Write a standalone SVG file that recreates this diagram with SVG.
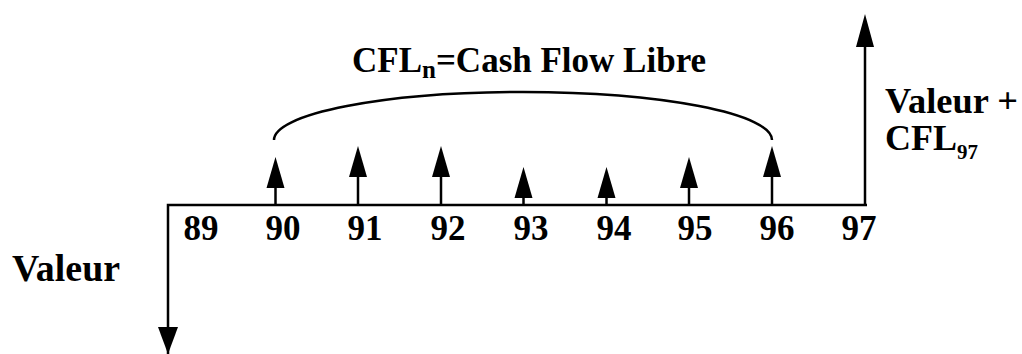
<svg xmlns="http://www.w3.org/2000/svg" width="1022" height="354" viewBox="0 0 1022 354">
<style>
.t{font-family:"Liberation Serif","Times New Roman",serif;font-weight:bold;fill:#000}
.n{font-size:35px;text-anchor:middle}
.l{stroke:#000;stroke-width:2.5;fill:none}
.h{fill:#000}
</style>
<rect width="1022" height="354" fill="#fff"/>
<g id="connectors">
<path class="l" d="M168,354 V205 H867"/>
<path class="h" d="M158,327 L178,327 L168,354 Z"/>
<path class="l" d="M865,205 V44"/>
<path class="h" d="M856,47 L874,47 L865,14 Z"/>
<path class="l" d="M274,140 A249,48 0 0 1 772,140"/>
</g>
<g id="arrows">
<g id="a90"><path class="l" d="M275.5,205 V185"/><path class="h" d="M266.5,188 L284.5,188 L275.5,157 Z"/></g>
<g id="a91"><path class="l" d="M358,205 V174"/><path class="h" d="M349,177 L367,177 L358,146 Z"/></g>
<g id="a92"><path class="l" d="M441,205 V174"/><path class="h" d="M432,177 L450,177 L441,146 Z"/></g>
<g id="a93"><path class="l" d="M523.5,205 V195"/><path class="h" d="M514.5,198 L532.5,198 L523.5,167 Z"/></g>
<g id="a94"><path class="l" d="M606.5,205 V195"/><path class="h" d="M597.5,198 L615.5,198 L606.5,167 Z"/></g>
<g id="a95"><path class="l" d="M689,205 V185"/><path class="h" d="M680,188 L698,188 L689,157 Z"/></g>
<g id="a96"><path class="l" d="M772,205 V174"/><path class="h" d="M763,177 L781,177 L772,146 Z"/></g>
</g>
<g id="labels">
<text class="t n" x="201" y="240">89</text>
<text class="t n" x="283" y="240">90</text>
<text class="t n" x="365" y="240">91</text>
<text class="t n" x="448" y="240">92</text>
<text class="t n" x="531" y="240">93</text>
<text class="t n" x="614" y="240">94</text>
<text class="t n" x="695" y="240">95</text>
<text class="t n" x="777" y="240">96</text>
<text class="t n" x="859" y="240">97</text>
</g>
<g id="title"><text class="t" x="352" y="72" font-size="35">CFL<tspan font-size="25" dy="6">n</tspan><tspan dy="-6">=Cash Flow Libre</tspan></text></g>
<g id="valeur-left"><text class="t" x="12" y="281" font-size="37" textLength="108" lengthAdjust="spacingAndGlyphs">Valeur</text></g>
<g id="valeur-right"><text class="t" x="885" y="113" font-size="36" textLength="133" lengthAdjust="spacingAndGlyphs">Valeur +</text>
<text class="t" x="885" y="150" font-size="36">CFL<tspan font-size="21" dy="9">97</tspan></text></g>
</svg>
